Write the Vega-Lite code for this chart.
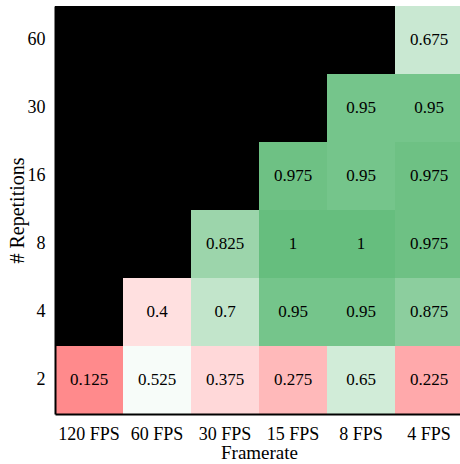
{
  "$schema": "https://vega.github.io/schema/vega-lite/v6.json",
  "autosize": "none",
  "padding": {"left": 55, "top": 6, "right": 0, "bottom": 50},
  "width": 408,
  "height": 408,
  "background": "white",
  "config": {
    "view": {"fill": "black", "stroke": null},
    "font": "Liberation Serif",
    "axis": {
      "labelFont": "Liberation Serif",
      "titleFont": "Liberation Serif",
      "labelFontSize": 18,
      "titleFontSize": 18,
      "titleFontWeight": "normal",
      "labelColor": "black",
      "titleColor": "black",
      "domainColor": "black",
      "domainWidth": 2,
      "ticks": false,
      "grid": false
    }
  },
  "data": {
    "values": [
      {"fps": "4 FPS", "reps": "60", "value": 0.675},
      {"fps": "8 FPS", "reps": "30", "value": 0.95},
      {"fps": "4 FPS", "reps": "30", "value": 0.95},
      {"fps": "15 FPS", "reps": "16", "value": 0.975},
      {"fps": "8 FPS", "reps": "16", "value": 0.95},
      {"fps": "4 FPS", "reps": "16", "value": 0.975},
      {"fps": "30 FPS", "reps": "8", "value": 0.825},
      {"fps": "15 FPS", "reps": "8", "value": 1},
      {"fps": "8 FPS", "reps": "8", "value": 1},
      {"fps": "4 FPS", "reps": "8", "value": 0.975},
      {"fps": "60 FPS", "reps": "4", "value": 0.4},
      {"fps": "30 FPS", "reps": "4", "value": 0.7},
      {"fps": "15 FPS", "reps": "4", "value": 0.95},
      {"fps": "8 FPS", "reps": "4", "value": 0.95},
      {"fps": "4 FPS", "reps": "4", "value": 0.875},
      {"fps": "120 FPS", "reps": "2", "value": 0.125},
      {"fps": "60 FPS", "reps": "2", "value": 0.525},
      {"fps": "30 FPS", "reps": "2", "value": 0.375},
      {"fps": "15 FPS", "reps": "2", "value": 0.275},
      {"fps": "8 FPS", "reps": "2", "value": 0.65},
      {"fps": "4 FPS", "reps": "2", "value": 0.225}
    ]
  },
  "encoding": {
    "x": {
      "field": "fps", "type": "nominal",
      "scale": {"domain": ["120 FPS", "60 FPS", "30 FPS", "15 FPS", "8 FPS", "4 FPS"], "paddingInner": 0, "paddingOuter": 0},
      "axis": {"title": "Framerate", "labelAngle": 0, "labelPadding": 11, "titlePadding": 0, "labelFontSize": 18, "titleFontSize": 19}
    },
    "y": {
      "field": "reps", "type": "nominal",
      "scale": {"domain": ["60", "30", "16", "8", "4", "2"], "paddingInner": 0, "paddingOuter": 0},
      "axis": {"title": "# Repetitions", "labelPadding": 10, "titlePadding": 0, "labelFontSize": 18, "titleFontSize": 20}
    }
  },
  "layer": [
    {
      "mark": {"type": "rect"},
      "encoding": {
        "color": {
          "field": "value", "type": "quantitative",
          "scale": {"domain": [0, 0.5, 1], "range": ["#ff6366", "#ffffff", "#66be7e"], "interpolate": "rgb"},
          "legend": null
        }
      }
    },
    {
      "mark": {"type": "text", "font": "Liberation Serif", "fontSize": 17, "color": "black"},
      "encoding": {
        "text": {"field": "value", "type": "quantitative", "format": "~g"}
      }
    }
  ]
}
